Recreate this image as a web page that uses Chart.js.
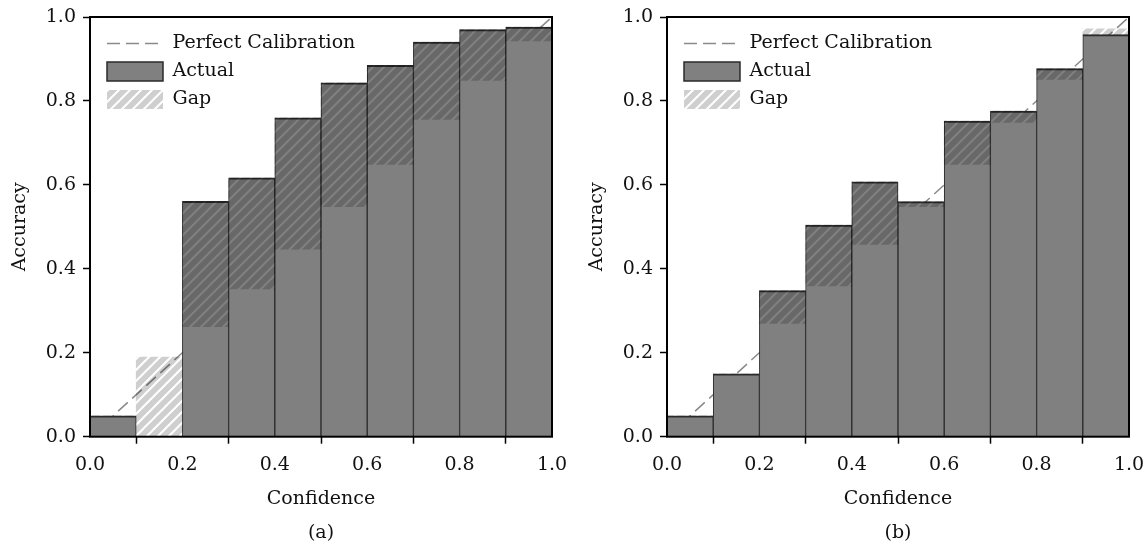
<!DOCTYPE html>
<html lang="en">
<head>
<meta charset="UTF-8">
<title>Reliability diagrams</title>
<script src="https://cdn.jsdelivr.net/npm/chart.js@4.4.1/dist/chart.umd.min.js"></script>
<style>
  body { margin: 0; background: #fff; }
  .row { display: flex; width: 1148px; height: 544px; }
  canvas { display: block; }
</style>
</head>
<body>
<div class="row">
  <canvas id="chartA" width="574" height="544"></canvas>
  <canvas id="chartB" width="574" height="544"></canvas>
</div>
<script>
// confidence bins (centres), 10 bins of width 0.1
var binCenters = [0.05, 0.15, 0.25, 0.35, 0.45, 0.55, 0.65, 0.75, 0.85, 0.95];

// panel (a)
var accuracyA   = [0.05, 0.00, 0.561, 0.617, 0.760, 0.843, 0.885, 0.940, 0.970, 0.976];
var confidenceA = [0.05, 0.19, 0.262, 0.352, 0.447, 0.548, 0.649, 0.756, 0.849, 0.943];

// panel (b)
var accuracyB   = [0.05, 0.15, 0.348, 0.504, 0.607, 0.560, 0.752, 0.776, 0.877, 0.958];
var confidenceB = [0.05, 0.15, 0.270, 0.359, 0.458, 0.548, 0.649, 0.749, 0.851, 0.972];

// perfect calibration diagonal
var diagX = [0, 1];
var diagY = [0, 1];

var FONT = 'DejaVu Serif';
var FSIZE = 19;
Chart.defaults.font.family = FONT;
Chart.defaults.font.size = FSIZE;
Chart.defaults.color = '#111';

function hatch(ctx) {
    var s = 11;
    var c = document.createElement('canvas');
    c.width = s; c.height = s;
    var g = c.getContext('2d');
    g.fillStyle = 'rgba(0,0,0,0.19)';
    g.fillRect(0, 0, s, s);
    g.globalCompositeOperation = 'destination-out';
    g.lineWidth = 2;
    g.beginPath();
    g.moveTo(-1, s + 1); g.lineTo(s + 1, -1);
    g.moveTo(-1, 1); g.lineTo(1, -1);
    g.moveTo(s - 1, s + 1); g.lineTo(s + 1, s - 1);
    g.stroke();
    return ctx.createPattern(c, 'repeat');
}

// box round the plot area
var frame = {
    id: 'frame',
    afterDatasetsDraw: function (chart) {
        var a = chart.chartArea, c = chart.ctx;
        c.save();
        c.strokeStyle = '#000';
        c.lineWidth = 2;
        c.strokeRect(a.left, a.top, a.right - a.left, a.bottom - a.top);
        c.restore();
    }
};

// legend sits a bit in from the top-left corner of the plot
var nudgeLegend = {
    id: 'nudgeLegend',
    afterLayout: function (chart) {
        var l = chart.legend, a = chart.chartArea;
        l.left = a.left + 8; l.right = a.right;
        l.top = a.top + 8; l.bottom = a.bottom;
    }
};

function makeChart(id, acc, conf, tag, padLeft, padRight) {
    var ctx = document.getElementById(id).getContext('2d');
    var actual = binCenters.map(function (x, i) { return { x: x, y: acc[i] }; });
    var gap = binCenters.map(function (x, i) { return { x: x, y: [acc[i], conf[i]] }; });
    var diag = diagX.map(function (x, i) { return { x: x, y: diagY[i] }; });

    var tickGrid = {
        display: true,
        drawOnChartArea: false,
        tickLength: 7,
        tickWidth: 1.5,
        tickColor: '#000'
    };

    return new Chart(ctx, {
        type: 'bar',
        data: {
            datasets: [
                {
                    type: 'line',
                    label: 'Perfect Calibration',
                    data: diag,
                    borderColor: '#8a8a8a',
                    borderWidth: 1.5,
                    borderDash: [13, 6],
                    pointRadius: 0,
                    pointStyle: 'line',
                    order: 3
                },
                {
                    label: 'Actual',
                    data: actual,
                    backgroundColor: '#808080',
                    borderColor: '#2a2a2a',
                    borderWidth: { top: 2, left: 1, right: 1, bottom: 0 },
                    grouped: false,
                    barPercentage: 1,
                    categoryPercentage: 1,
                    order: 2
                },
                {
                    label: 'Gap',
                    data: gap,
                    backgroundColor: hatch(ctx),
                    borderWidth: 0,
                    grouped: false,
                    barPercentage: 1,
                    categoryPercentage: 1,
                    order: 1
                }
            ]
        },
        options: {
            responsive: false,
            animation: false,
            layout: {
                padding: { top: 17, right: padRight, bottom: 0, left: padLeft }
            },
            scales: {
                x: {
                    type: 'linear',
                    min: 0,
                    max: 1,
                    offset: false,
                    afterFit: function (s) {
                        s.height = 84.5;
                        s.paddingLeft = 0;
                        s.paddingRight = 0;
                    },
                    ticks: {
                        stepSize: 0.2,
                        padding: 10,
                        maxRotation: 0,
                        callback: function (v) { return v.toFixed(1); }
                    },
                    grid: tickGrid,
                    border: { display: false },
                    title: { display: true, text: 'Confidence', padding: { top: 0, bottom: 10.8 } }
                },
                y: {
                    min: 0,
                    max: 1,
                    afterFit: function (s) {
                        s.width = 90;
                        s.paddingTop = 0;
                        s.paddingBottom = 0;
                    },
                    ticks: {
                        stepSize: 0.2,
                        padding: 7,
                        callback: function (v) { return v.toFixed(1); }
                    },
                    grid: tickGrid,
                    border: { display: false },
                    title: { display: true, text: 'Accuracy', padding: { top: 8.6, bottom: 0 } }
                }
            },
            plugins: {
                tooltip: { enabled: false },
                title: {
                    display: true,
                    text: '(' + tag + ')',
                    position: 'bottom',
                    fullSize: false,
                    padding: 0,
                    font: { size: FSIZE, weight: 'normal' }
                },
                legend: {
                    position: 'chartArea',
                    align: 'start',
                    labels: {
                        usePointStyle: true,
                        pointStyleWidth: 56,
                        boxHeight: 19,
                        padding: 9,
                        sort: function (a, b) { return a.datasetIndex - b.datasetIndex; },
                        generateLabels: function (chart) {
                            var items = Chart.defaults.plugins.legend.labels.generateLabels(chart);
                            items.forEach(function (it) {
                                var ds = chart.data.datasets[it.datasetIndex];
                                if (ds.type === 'line') {
                                    it.pointStyle = 'line';
                                    it.lineDash = ds.borderDash;
                                    it.strokeStyle = ds.borderColor;
                                    it.lineWidth = ds.borderWidth;
                                } else {
                                    it.pointStyle = 'rect';
                                    it.lineWidth = ds.label === 'Actual' ? 1.5 : 0;
                                }
                            });
                            return items;
                        }
                    }
                }
            }
        },
        plugins: [frame, nudgeLegend]
    });
}

makeChart('chartA', accuracyA, confidenceA, 'a', 0, 22);
makeChart('chartB', accuracyB, confidenceB, 'b', 3, 19);
</script>
</body>
</html>
